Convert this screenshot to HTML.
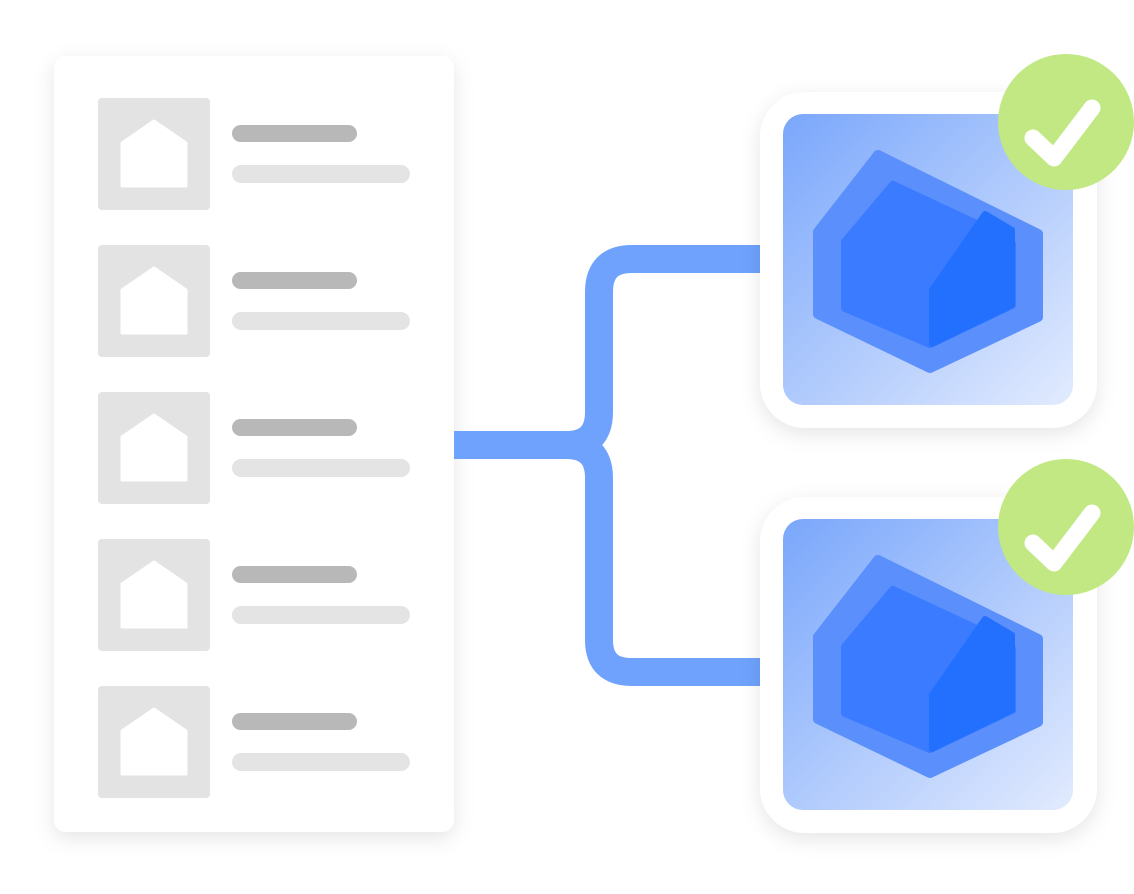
<!DOCTYPE html>
<html><head><style>html,body{margin:0;padding:0;background:#fff;}svg{display:block}</style></head>
<body>
<svg width="1134" height="894" viewBox="0 0 1134 894" xmlns="http://www.w3.org/2000/svg">
<defs>
<filter id="sh" x="-20%" y="-20%" width="140%" height="140%"><feDropShadow dx="0" dy="6" stdDeviation="10" flood-color="#000" flood-opacity="0.10"/></filter>
<linearGradient id="g" x1="0" y1="0" x2="1" y2="1"><stop offset="0" stop-color="#7aa7fb"/><stop offset="1" stop-color="#e2ebfe"/></linearGradient>
<g id="ic">
<rect x="0" y="0" width="112" height="112" rx="4" fill="#e3e3e3"/>
<path d="M24 45 L56 23 L88 45 V88 H24 Z" fill="#fff" stroke="#fff" stroke-width="3" stroke-linejoin="round"/>
<rect x="134" y="27" width="125" height="17" rx="8.5" fill="#b8b8b8"/>
<rect x="134" y="67" width="178" height="18" rx="9" fill="#e4e4e4"/>
</g>
<g id="card">
<rect x="760" y="0" width="337" height="336" rx="45" fill="#fff" filter="url(#sh)"/>
<rect x="783" y="22" width="290" height="291" rx="20" fill="url(#g)"/>
<polygon points="818,140 878,63 1038,142 1038,225 930,276 818,222" fill="#5a8ffc" stroke="#5a8ffc" stroke-width="10" stroke-linejoin="round"/>
<polygon points="845,150 893,93 1000,143 1012,152 1012,213 930,252 845,216" fill="#3a7bff" stroke="#3a7bff" stroke-width="8" stroke-linejoin="round"/>
<polygon points="932,198 985,122 1012,138 1012,213 932,252" fill="#2370ff" stroke="#2370ff" stroke-width="6" stroke-linejoin="round"/>
<circle cx="1066" cy="30" r="68" fill="#c1e882"/>
<polyline points="1033,46 1054,66 1092,16" fill="none" stroke="#fff" stroke-width="17" stroke-linecap="round" stroke-linejoin="round"/>
</g>
</defs>
<rect x="54" y="56" width="400" height="776" rx="12" fill="#fff" filter="url(#sh)"/>
<use href="#ic" x="98" y="98"/>
<use href="#ic" x="98" y="245"/>
<use href="#ic" x="98" y="392"/>
<use href="#ic" x="98" y="539"/>
<use href="#ic" x="98" y="686"/>
<path d="M454 445 H566 Q599 445 599 412 V292 Q599 259 632 259 H770 M566 445 Q599 445 599 478 V640 Q599 672 632 672 H770" fill="none" stroke="#6ea2fc" stroke-width="28"/>
<use href="#card" x="0" y="92"/>
<use href="#card" x="0" y="497"/>
</svg>
</body></html>
